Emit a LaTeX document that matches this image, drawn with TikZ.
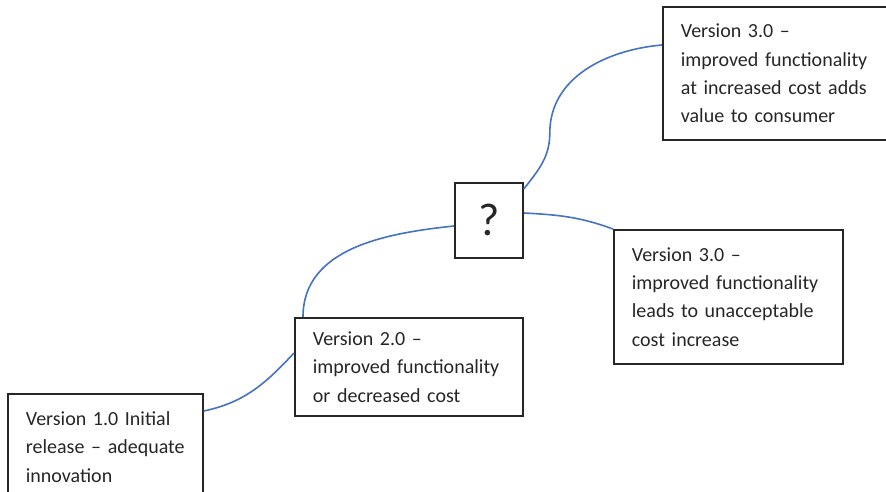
\documentclass[tikz,border=0pt]{standalone}
\usepackage{fontspec}
\setmainfont{Carlito}
\definecolor{linkblue}{HTML}{4472C4}
\begin{document}
\begin{tikzpicture}
  [x=1pt,y=1pt,
   box/.style={draw=black!85,line width=1.8pt,anchor=north west,align=left,
     inner xsep=18pt,inner ysep=0pt,text=black!85,font=\fontsize{20}{28.4}\selectfont},
   link/.style={draw=linkblue,line width=1.6pt}]
  \useasboundingbox (0,0) rectangle (886,491);
  \node[box,text width=159pt,minimum height=106pt] (v1) at (7,98) {Version 1.0 Initial\\release -- adequate\\innovation};
  \node[box,text width=192pt,minimum height=98pt] (v2) at (294,174) {Version 2.0 --\\improved functionality\\or decreased cost};
  \node[box,inner xsep=0pt,minimum width=68pt,minimum height=75pt,font=\fontsize{46}{50}\selectfont] (q) at (454,309) {?};
  \node[box,text width=204pt,minimum height=133pt] (v3a) at (662,485) {Version 3.0 --\\improved functionality\\at increased cost adds\\value to consumer};
  \node[box,text width=193pt,minimum height=134pt] (v3b) at (613,262) {Version 3.0 --\\improved functionality\\leads to unacceptable\\cost increase};

  \draw[link] ([yshift=-18pt]v1.north east) to[out=12,in=227] ([yshift=-36pt]v2.north west);
  \draw[link] ([xshift=9pt]v2.north west) to[out=90,in=186] ([yshift=-44pt]q.north west);
  \draw[link] ([yshift=-7pt]q.north east) to[out=52,in=270] ++(26,56) to[out=90,in=185] ([yshift=-39pt]v3a.north west);
  \draw[link] ([yshift=-31pt]q.north east) to[out=-3,in=160] (v3b.north west);
\end{tikzpicture}
\end{document}
